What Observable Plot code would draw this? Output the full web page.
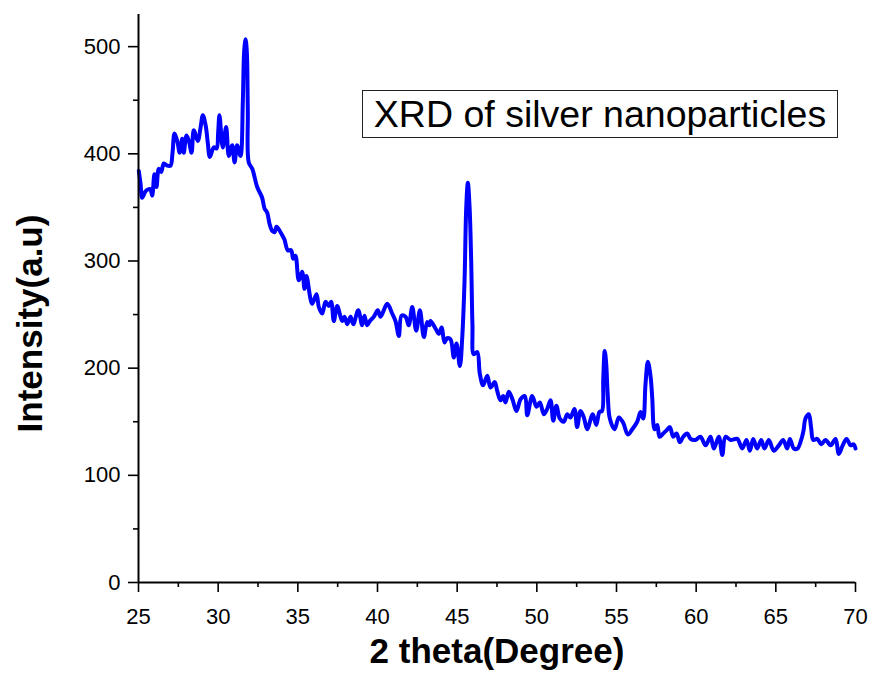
<!DOCTYPE html>
<html>
<head>
<meta charset="utf-8">
<script src="https://cdn.jsdelivr.net/npm/d3@7"></script>
<script src="https://cdn.jsdelivr.net/npm/@observablehq/plot@0.6"></script>
<style>
  html, body { margin: 0; padding: 0; background: #fff; }
  #wrap { position: relative; width: 871px; height: 683px; font-family: "Liberation Sans", Arial, sans-serif; }
  #legend { position: absolute; left: 362px; top: 90px; width: 474px; height: 46px; border: 1.2px solid #222;
            font-size: 37.5px; line-height: 46px; text-align: center; color: #000; white-space: nowrap; box-sizing: content-box; }
</style>
</head>
<body>
<div id="wrap"><div id="legend">XRD of silver nanoparticles</div></div>
<script>
const twoTheta = [25.02,25.13,25.23,25.44,25.65,25.75,25.86,26.00,26.13,26.27,26.42,26.59,26.80,27.01,27.13,27.26,27.43,27.59,27.74,27.84,28.01,28.16,28.33,28.47,28.72,28.89,29.04,29.22,29.35,29.48,29.73,29.90,30.00,30.08,30.29,30.50,30.67,30.88,31.03,31.19,31.40,31.55,31.63,31.72,31.80,31.86,31.92,32.14,32.45,32.76,32.91,33.08,33.22,33.39,33.54,33.66,33.87,34.02,34.16,34.37,34.58,34.71,34.85,35.06,35.27,35.42,35.54,35.90,36.17,36.32,36.53,36.74,36.94,37.09,37.26,37.47,37.78,37.93,38.10,38.31,38.48,38.79,39.04,39.18,39.35,39.52,39.77,40.02,40.19,40.61,40.92,41.13,41.34,41.51,41.76,41.96,42.18,42.43,42.66,42.91,43.12,43.26,43.33,43.64,43.85,44.02,44.21,44.37,44.58,44.79,44.96,45.17,45.32,45.46,45.57,45.67,45.78,45.88,45.96,46.04,46.26,46.42,46.63,46.89,47.09,47.36,47.51,47.72,47.89,48.03,48.24,48.47,48.72,48.98,49.25,49.40,49.71,49.98,50.19,50.44,50.65,50.86,51.03,51.23,51.44,51.69,51.91,52.11,52.36,52.53,52.74,52.95,53.16,53.51,53.73,53.93,54.09,54.17,54.26,54.35,54.45,54.58,54.88,55.15,55.42,55.71,55.99,56.30,56.51,56.68,56.82,56.97,57.14,57.24,57.39,57.56,57.70,57.93,58.14,58.35,58.56,58.77,58.97,59.19,59.44,59.65,59.96,60.27,60.59,60.90,61.11,61.42,61.64,61.84,62.16,62.58,62.89,63.16,63.37,63.58,63.83,64.08,64.29,64.56,64.87,65.19,65.46,65.71,65.88,66.13,66.36,66.59,66.74,66.86,67.07,67.21,67.35,67.60,67.85,68.12,68.44,68.75,68.95,69.20,69.44,69.69,69.88,70.00];
const intensity = [384,372,359,365,367,367,361,381,369,386,383,391,389,389,400,419,412,401,414,401,417,412,401,422,412,424,436,426,410,397,406,405,420,436,406,425,398,408,392,408,398,450,495,507,495,440,392,386,369,359,349,345,335,328,327,332,328,324,320,310,310,302,305,282,290,274,286,260,269,257,251,262,258,262,244,258,244,248,241,248,241,254,240,249,240,244,248,254,248,260,251,244,230,249,248,240,257,235,254,229,243,240,244,237,232,238,224,228,227,210,223,202,229,280,350,373,350,300,240,213,215,195,184,193,182,187,179,170,174,168,178,171,160,171,174,156,174,164,168,157,162,170,151,165,153,150,157,154,162,145,160,154,143,157,147,159,160,190,216,205,175,153,143,154,149,138,143,150,159,153,185,206,192,173,143,147,136,139,142,145,136,139,131,136,139,134,133,136,128,136,125,136,119,136,133,134,125,133,123,134,125,133,125,133,123,128,133,125,134,125,125,133,142,153,157,145,133,134,129,133,128,134,120,128,134,128,129,125];
const xMajor = [25,30,35,40,45,50,55,60,65,70];
const xMinor = [27.5,32.5,37.5,42.5,47.5,52.5,57.5,62.5,67.5];
const yMajor = [0,100,200,300,400,500];
const yMinor = [50,150,250,350,450];
const xTitle = "2 theta(Degree)";
const yTitle = "Intensity(a.u)";

const data = twoTheta.map((x, i) => ({x, y: intensity[i]}));
const font = "Liberation Sans, Arial, sans-serif";

const chart = Plot.plot({
  width: 871,
  height: 683,
  marginLeft: 138,
  marginRight: 16,
  marginTop: 14,
  marginBottom: 101,
  style: {fontFamily: font, background: "transparent", overflow: "visible"},
  x: {domain: [25, 70]},
  y: {domain: [0, 530]},
  marks: [
    Plot.line(data, {x: "x", y: "y", stroke: "#0000ff", strokeWidth: 4, curve: "catmull-rom", strokeLinejoin: "round"}),
    Plot.ruleY([0], {stroke: "#000", strokeWidth: 2}),
    Plot.ruleX([25], {stroke: "#000", strokeWidth: 2, y1: 0, y2: 530}),
    Plot.axisX(xMajor, {tickSize: 10, tickPadding: 16, fontSize: 22, strokeWidth: 1.6, tickFormat: d => String(d), label: null, fill: "#000"}),
    Plot.axisX(xMinor, {tickSize: 5, strokeWidth: 1.6, tickFormat: () => "", label: null}),
    Plot.axisY(yMajor, {tickSize: 10, tickPadding: 8, fontSize: 22, strokeWidth: 1.6, tickFormat: d => String(d), label: null, fill: "#000"}),
    Plot.axisY(yMinor, {tickSize: 5, strokeWidth: 1.6, tickFormat: () => "", label: null}),
    Plot.text([yTitle], {frameAnchor: "left", textAnchor: "middle", dx: -108, dy: 25, rotate: -90, fontSize: 35, fontWeight: "bold", fill: "#000", text: d => d}),
    Plot.text([xTitle], {frameAnchor: "bottom", dy: 80, fontSize: 35, fontWeight: "bold", fill: "#000", text: d => d})
  ]
});
const wrap = document.getElementById("wrap");
wrap.insertBefore(chart, wrap.firstChild);
</script>
</body>
</html>
